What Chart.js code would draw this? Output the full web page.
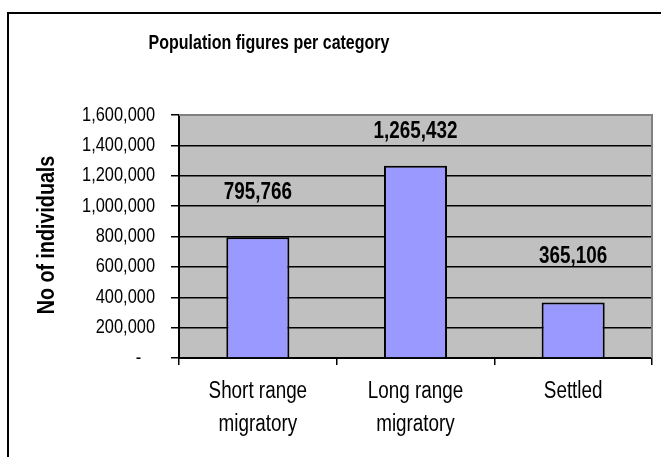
<!DOCTYPE html>
<html>
<head>
<meta charset="utf-8">
<script src="https://cdn.jsdelivr.net/npm/chart.js@4.4.1/dist/chart.umd.min.js"></script>
<style>
  html, body { margin: 0; padding: 0; background: #fff; }
  #wrap { width: 661px; height: 457px; }
</style>
</head>
<body>
<div id="wrap"><canvas id="c" width="661" height="457"></canvas></div>
<script>
const categories = [["Short range", "migratory"], ["Long range", "migratory"], ["Settled"]];
const values = [795766, 1265432, 365106];
const yTicks = [0, 200000, 400000, 600000, 800000, 1000000, 1200000, 1400000, 1600000];
const chartTitle = "Population figures per category";
const yTitle = "No of individuals";
const labelOffsets = [44, 34, 46];

const FONT = "'Liberation Sans', Arial, sans-serif";
const NARROW = 0.82; // mimic an Arial Narrow look by condensing glyphs horizontally
const fmt = v => v.toLocaleString('en-US');

const canvas = document.getElementById('c');
const c2d = canvas.getContext('2d');
const origFill = c2d.fillText.bind(c2d);
c2d.fillText = function (t, x, y, mw) {
  const w = c2d.measureText(t).width * NARROW;
  origFill(t, x, y, (mw !== undefined && mw !== null) ? Math.min(mw, w) : w);
};

const decor = {
  id: 'decor',
  beforeDraw(chart) {
    const { ctx, chartArea: a } = chart;
    ctx.save();
    ctx.fillStyle = '#C0C0C0';
    ctx.fillRect(a.left, a.top, a.right - a.left, a.bottom - a.top);
    ctx.restore();
  },
  afterDatasetsDraw(chart) {
    const { ctx, chartArea: a } = chart;
    ctx.save();
    ctx.strokeStyle = '#808080';
    ctx.lineWidth = 2;
    ctx.beginPath();
    ctx.moveTo(a.left, a.top);
    ctx.lineTo(a.right, a.top);
    ctx.lineTo(a.right, a.bottom);
    ctx.stroke();
    ctx.strokeStyle = '#000';
    ctx.lineWidth = 2;
    ctx.beginPath();
    ctx.moveTo(8, 470);
    ctx.lineTo(8, 13);
    ctx.lineTo(680, 13);
    ctx.stroke();
    ctx.fillStyle = '#000';
    ctx.font = "bold 19.5px " + FONT;
    ctx.textAlign = 'center';
    ctx.textBaseline = 'middle';
    ctx.fillText(chartTitle, 269, 44);
    ctx.save();
    ctx.translate(47, 235);
    ctx.rotate(-Math.PI / 2);
    ctx.font = "bold 24px " + FONT;
    ctx.fillText(yTitle, 0, 0);
    ctx.restore();
    const meta = chart.getDatasetMeta(0);
    ctx.font = "bold 23px " + FONT;
    meta.data.forEach((bar, i) => {
      ctx.fillText(fmt(values[i]), bar.x, bar.y - labelOffsets[i]);
    });
    ctx.restore();
  }
};

new Chart(canvas, {
  type: 'bar',
  data: {
    labels: categories,
    datasets: [{
      data: values,
      backgroundColor: '#9999FF',
      borderColor: '#000',
      borderWidth: 2,
      categoryPercentage: 1,
      barPercentage: 0.40
    }]
  },
  options: {
    responsive: false,
    animation: false,
    devicePixelRatio: 1,
    layout: { padding: { top: 115, right: 9, left: 0, bottom: 0 } },
    plugins: { legend: { display: false }, tooltip: { enabled: false }, title: { display: false } },
    scales: {
      x: {
        offset: true,
        grid: { display: true, drawOnChartArea: false, drawTicks: true, tickLength: 7, color: '#000', offset: true, lineWidth: 1.5 },
        border: { display: true, color: '#000', width: 2 },
        ticks: { color: '#000', font: { family: FONT, size: 23, lineHeight: 1.435 }, padding: 10, maxRotation: 0, autoSkip: false },
        afterFit(s) { s.height = 99; }
      },
      y: {
        min: 0, max: 1600000,
        afterBuildTicks(s) { s.ticks = yTicks.map(v => ({ value: v })); },
        grid: {
          color: ctx => (ctx.tick && ctx.tick.value === 1600000) ? '#808080' : '#000',
          tickColor: '#000', tickLength: 8, lineWidth: 1.5
        },
        border: { display: true, color: '#000', width: 2 },
        ticks: {
          color: '#000', padding: 16,
          font: { family: FONT, size: 20 },
          callback: v => v === 0 ? '-   ' : fmt(v)
        },
        afterFit(s) { s.width = 179; }
      }
    }
  },
  plugins: [decor]
});
</script>
</body>
</html>
